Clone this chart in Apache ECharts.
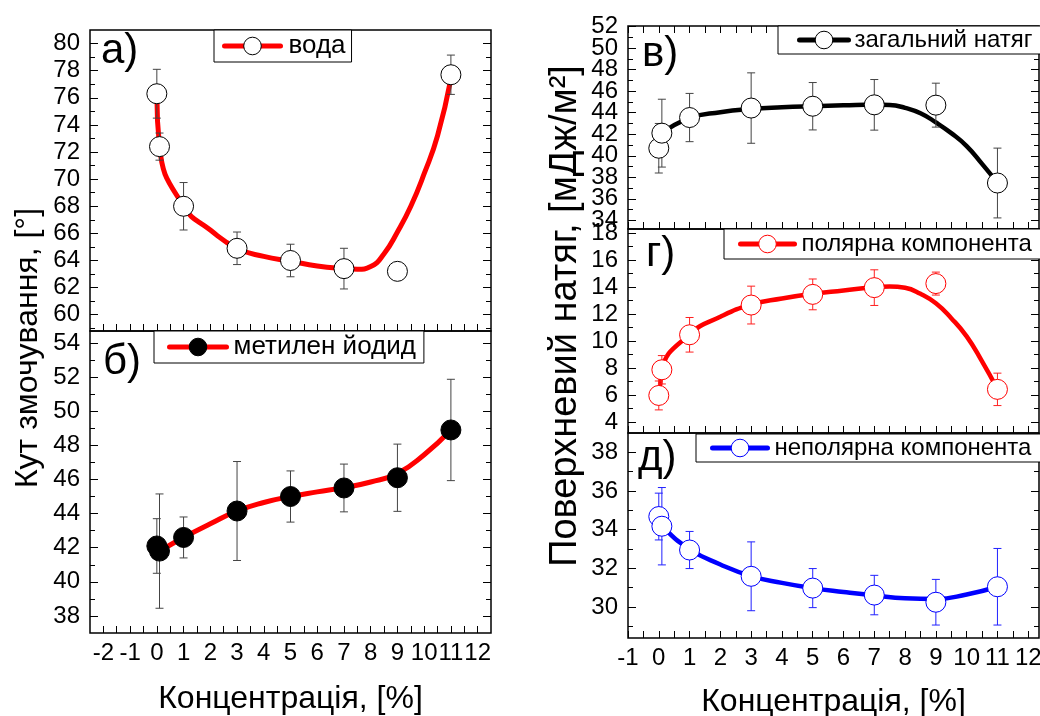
<!DOCTYPE html>
<html><head><meta charset="utf-8">
<script src="https://cdn.jsdelivr.net/npm/echarts@6/dist/echarts.min.js"></script>
<style>html,body{margin:0;padding:0;background:#fff}#c{width:1040px;height:716px}</style>
</head><body><div id="c"></div>
<script>
// ---------- DATA ----------
const conc = [0, 0.1, 1, 3, 5, 7, 9, 11];

const waterAngle = [76.3, 72.4, 68.0, 64.9, 64.0, 63.4, 63.2, 77.7];
const waterErr   = [1.8, 1.0, 1.75, 1.2, 1.2, 1.5, 0, 1.45];
const waterFit   = [[0,76.3],[0.1,72.4],[1,68.0],[2,66.25],[3,64.9],[4,64.3],[5,63.95],[6,63.6],[7,63.4],[7.5,63.35],[8,63.55],[8.5,64.5],[9,66.1],[9.5,68.0],[10,70.4],[10.5,73.2],[11,77.4]];

const diiodoAngle = [42.1, 41.8, 42.6, 44.15, 45.0, 45.5, 46.1, 48.9];
const diiodoErr   = [1.6, 3.35, 1.2, 2.9, 1.5, 1.4, 1.97, 2.97];
const diiodoFit   = [[0.1,41.8],[1,42.6],[2,43.4],[3,44.15],[4,44.65],[5,45.0],[6,45.27],[7,45.52],[8,45.85],[9,46.35],[10,47.45],[11,48.9]];

const totalTension = [40.7, 42.1, 43.55, 44.43, 44.6, 44.73, 44.7, 37.47];
const totalErr     = [2.3, 3.15, 2.24, 3.27, 2.2, 2.35, 2.04, 3.24];
const totalFit     = [[0.1,42.1],[1,43.5],[2,44.05],[3,44.35],[4,44.5],[5,44.6],[6,44.68],[7,44.75],[7.5,44.72],[8,44.45],[8.5,43.95],[9,43.1],[9.5,42.1],[10,40.9],[10.5,39.25],[11,37.5]];

const polarComp = [5.98, 7.88, 10.47, 12.67, 13.46, 13.96, 14.26, 6.43];
const polarErr  = [1.07, 1.05, 1.28, 1.4, 1.14, 1.32, 0.85, 1.2];
const polarFit  = [[0.05,6.8],[0.1,7.9],[1,10.5],[2,11.8],[3,12.7],[4,13.15],[5,13.5],[6,13.75],[7,14.0],[7.5,14.05],[8,13.95],[8.5,13.5],[9,12.8],[9.5,11.7],[10,10.35],[10.5,8.5],[11,6.45]];

const dispComp = [34.68, 34.18, 32.95, 31.59, 30.98, 30.62, 30.25, 31.05];
const dispErr  = [1.21, 2.0, 0.96, 1.78, 1.01, 1.02, 1.18, 1.98];
const dispFit  = [[0,34.6],[0.1,34.2],[1,33.0],[2,32.2],[3,31.6],[4,31.25],[5,30.98],[6,30.78],[7,30.6],[8,30.45],[9,30.42],[10,30.65],[11,31.05]];

// tick labels
const xTicksLeft  = [-2,-1,0,1,2,3,4,5,6,7,8,9,10,11,12];
const xTicksRight = [-1,0,1,2,3,4,5,6,7,8,9,10,11,12];
const yTicksA = [60,62,64,66,68,70,72,74,76,78,80];
const yTicksB = [38,40,42,44,46,48,50,52,54];
const yTicksV = [34,36,38,40,42,44,46,48,50,52];
const yTicksG = [4,6,8,10,12,14,16,18];
const yTicksD = [30,32,34,36,38];

// ---------- CHART ----------
const FONT = '"Liberation Sans", Arial, sans-serif';
const chart = echarts.init(document.getElementById('c'), null, {renderer:'canvas', width:1040, height:716});

const grids = [
  {left:90, top:30, width:401, height:301},
  {left:90, top:331, width:401, height:302},
  {left:628, top:26, width:411, height:203},
  {left:628, top:229, width:411, height:204},
  {left:628, top:433, width:411, height:205}
].map(g => Object.assign({show:true, borderColor:'#000', borderWidth:1.5, backgroundColor:'rgba(0,0,0,0)', containLabel:false, outerBoundsMode:'none'}, g));

const xAxis = [], yAxis = [];
const tickLine = {color:'#000', width:1};
const labelStyle = {show:true, showMinLabel:true, showMaxLabel:true, hideOverlap:false,
  fontSize:24, fontFamily:FONT, color:'#000', margin:10};

function tickOnly(gi, min, max, pos, vals, len, labelVals) {
  return {type:'value', gridIndex:gi, min:min, max:max, position:pos,
    axisLine:{show:false, onZero:false}, splitLine:{show:false},
    axisLabel: labelVals ? Object.assign({customValues:labelVals}, labelStyle) : {show:false},
    axisTick:{show:true, inside:true, length:len, lineStyle:tickLine, customValues:vals}};
}

function buildPanel(gi, xMin, xMax, xLabels, yMin, yMax, yLabels, o) {
  const xMinor = xLabels.map(v => v + 0.5).concat([xLabels[0] - 0.5]).filter(v => v > xMin && v < xMax);
  const xi = xAxis.length;
  xAxis.push({type:'value', gridIndex:gi, min:xMin, max:xMax, position:'bottom',
    axisLine:{show:false, onZero:false}, splitLine:{show:false},
    axisTick:{show:true, inside:true, length:7, lineStyle:tickLine, customValues:xLabels.concat(xMinor)},
    axisLabel:{show:!!o.xLabels, customValues:xLabels, showMinLabel:true, showMaxLabel:true, hideOverlap:false,
      fontSize:24, fontFamily:FONT, color:'#000', margin:8},
    name:o.xName || '', nameLocation:'middle', nameGap:o.xNameGap || 50, nameMoveOverlap:false,
    nameTextStyle:{fontSize:32, fontFamily:FONT, color:'#000'}});
  if (o.topTicks) xAxis.push(tickOnly(gi, xMin, xMax, 'top', xLabels.concat(xMinor), 7));
  const yStep = yLabels[1] - yLabels[0];
  const yMinor = yLabels.map(v => v + yStep/2).concat([yLabels[0] - yStep/2]).filter(v => v > yMin && v < yMax);
  // labels split over two axes so that tight labels are never auto-hidden
  const evenLabels = yLabels.filter((v, i) => i % 2 === 0);
  const oddLabels = yLabels.filter((v, i) => i % 2 === 1);
  const yi = yAxis.length;
  yAxis.push(tickOnly(gi, yMin, yMax, 'left', yLabels, 8, evenLabels));
  yAxis.push(tickOnly(gi, yMin, yMax, 'left', yMinor, 5, oddLabels));
  yAxis.push(tickOnly(gi, yMin, yMax, 'right', yLabels, 8));
  yAxis.push(tickOnly(gi, yMin, yMax, 'right', yMinor, 5));
  return {xi, yi};
}

const pA = buildPanel(0, -2.5, 12.5, xTicksLeft, 58.8, 81, yTicksA, {});
const pB = buildPanel(1, -2.5, 12.5, xTicksLeft, 37, 54.7, yTicksB, {xLabels:true, xName:'Концентрація, [%]', xNameGap:50});
const pV = buildPanel(2, -1, 12.35, xTicksRight, 33.2, 52.05, yTicksV, {topTicks:true});
const pG = buildPanel(3, -1, 12.35, xTicksRight, 3.2, 18.3, yTicksG, {});
const pD = buildPanel(4, -1, 12.35, xTicksRight, 28.4, 39, yTicksD, {xLabels:true, xName:'Концентрація, [%]', xNameGap:48});

function errRender(color) {
  return function (params, api) {
    const x = api.value(0), lo = api.value(1), hi = api.value(2);
    const p1 = api.coord([x, hi]), p2 = api.coord([x, lo]);
    const cw = 4, st = {stroke:color, lineWidth:1};
    return {type:'group', children:[
      {type:'line', shape:{x1:p1[0], y1:p1[1], x2:p2[0], y2:p2[1]}, style:st},
      {type:'line', shape:{x1:p1[0]-cw, y1:p1[1], x2:p1[0]+cw, y2:p1[1]}, style:st},
      {type:'line', shape:{x1:p2[0]-cw, y1:p2[1], x2:p2[0]+cw, y2:p2[1]}, style:st}
    ]};
  };
}

function panelSeries(p, name, fit, ys, errs, lineColor, lineW, fill, border, errColor) {
  const errData = conc.map((x, i) => [x, ys[i] - errs[i], ys[i] + errs[i]]).filter((d, i) => errs[i] > 0);
  return [
    {name:name, type:'line', xAxisIndex:p.xi, yAxisIndex:p.yi, data:fit, smooth:0.5,
     showSymbol:false, symbol:'circle', lineStyle:{color:lineColor, width:lineW, cap:'round', join:'round'},
     itemStyle:{color:fill, borderColor:border, borderWidth:1}, z:2, silent:true},
    {name:name + ' σ', type:'custom', xAxisIndex:p.xi, yAxisIndex:p.yi, data:errData,
     renderItem:errRender(errColor), z:3, silent:true},
    {name:name + ' •', type:'scatter', xAxisIndex:p.xi, yAxisIndex:p.yi,
     data:conc.map((x, i) => [x, ys[i]]), symbol:'circle', symbolSize:20,
     itemStyle:{color:fill, borderColor:border, borderWidth:1, opacity:1}, z:4, silent:true}
  ];
}

const series = [].concat(
  panelSeries(pA, 'вода', waterFit, waterAngle, waterErr, '#ff0000', 5, '#ffffff', '#000000', '#444444'),
  panelSeries(pB, 'метилен йодид', diiodoFit, diiodoAngle, diiodoErr, '#ff0000', 5, '#000000', '#000000', '#444444'),
  panelSeries(pV, 'загальний натяг', totalFit, totalTension, totalErr, '#000000', 4.5, '#ffffff', '#000000', '#444444'),
  panelSeries(pG, 'полярна компонента', polarFit, polarComp, polarErr, '#ff0000', 4.5, '#ffffff', '#ff0000', '#ff2020'),
  panelSeries(pD, 'неполярна компонента', dispFit, dispComp, dispErr, '#0000ff', 4.5, '#ffffff', '#0000ff', '#2020ff')
);

function legendFor(name, left, top, padding, itemWidth, fontSize, textPadLeft, fill, border) {
  return {data:[name], left:left, top:top, orient:'horizontal', padding:padding,
    itemWidth:itemWidth, itemHeight:22, selectedMode:false,
    borderColor:'#000', borderWidth:1, backgroundColor:'#fff', borderRadius:0,
    itemStyle:{color:fill, borderColor:border, borderWidth:1},
    lineStyle:{width:5},
    textStyle:{fontSize:fontSize, fontFamily:FONT, color:'#000', padding:[0,0,0,textPadLeft]}};
}

const option = {
  animation:false,
  backgroundColor:'#fff',
  textStyle:{fontFamily:FONT},
  grid:grids,
  xAxis:xAxis,
  yAxis:yAxis,
  legend:[
    legendFor('вода', 214, 30, [3,6,3,8], 56, 26, 3, '#fff', '#000'),
    legendFor('метилен йодид', 154, 331, [3,8,3,13], 57, 26, 2, '#000', '#000'),
    legendFor('загальний натяг', 778, 26, [2,12,2,19], 49, 24, 1, '#fff', '#000'),
    legendFor('полярна компонента', 724, 229, [3,12,3,14], 54, 24, 2, '#fff', '#ff0000'),
    legendFor('неполярна компонента', 696, 434, [2,12,2,14], 55, 24, 2, '#fff', '#0000ff')
  ],
  graphic:[
    {type:'text', x:101, y:51, z:10, style:{text:'а)', fontSize:42, fontFamily:FONT, fill:'#000', verticalAlign:'middle'}},
    {type:'text', x:103, y:362, z:10, style:{text:'б)', fontSize:42, fontFamily:FONT, fill:'#000', verticalAlign:'middle'}},
    {type:'text', x:642, y:54, z:10, style:{text:'в)', fontSize:42, fontFamily:FONT, fill:'#000', verticalAlign:'middle'}},
    {type:'text', x:646, y:254, z:10, style:{text:'г)', fontSize:42, fontFamily:FONT, fill:'#000', verticalAlign:'middle'}},
    {type:'text', x:638, y:458, z:10, style:{text:'д)', fontSize:42, fontFamily:FONT, fill:'#000', verticalAlign:'middle'}},
    {type:'text', x:28, y:348, rotation:Math.PI/2, z:10, style:{text:'Кут змочування, [°]', fontSize:32, fontFamily:FONT, fill:'#000', align:'center', verticalAlign:'middle'}},
    {type:'text', x:566, y:316, rotation:Math.PI/2, z:10, style:{text:'Поверхневий натяг, [мДж/м²]', fontSize:38, fontFamily:FONT, fill:'#000', align:'center', verticalAlign:'middle'}}
  ],
  series:series
};
chart.setOption(option);
</script></body></html>
